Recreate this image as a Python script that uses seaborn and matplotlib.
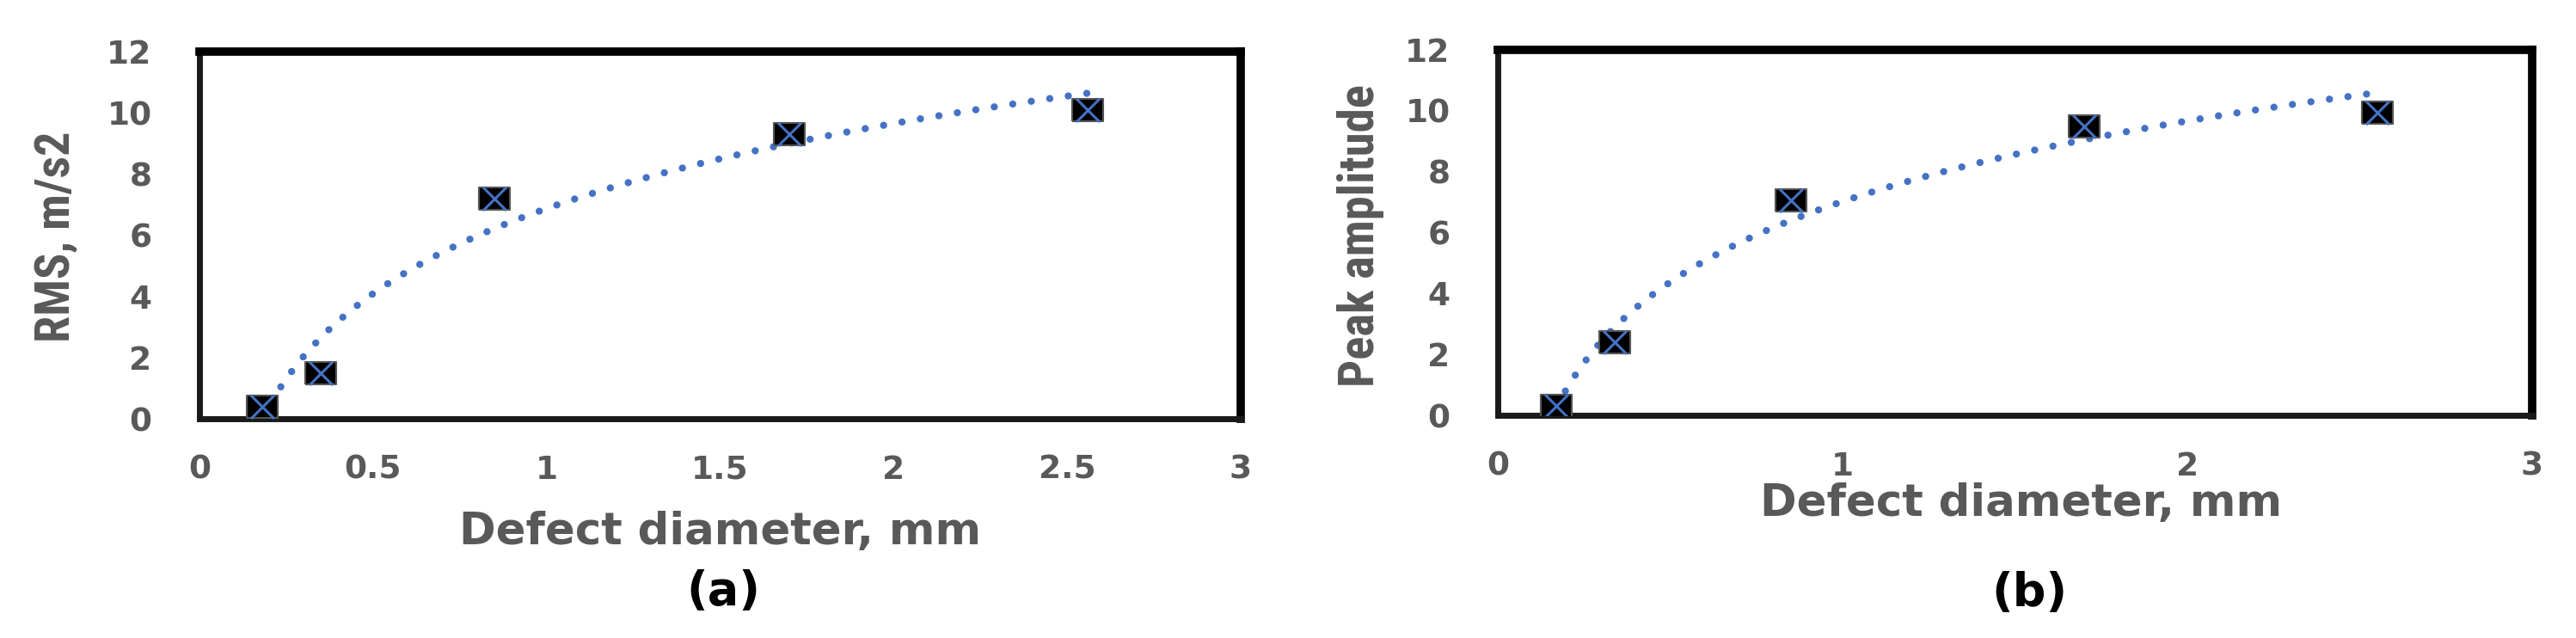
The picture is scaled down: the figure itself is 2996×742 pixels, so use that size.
import numpy as np
import pandas as pd
import matplotlib
matplotlib.use("Agg")
import matplotlib.pyplot as plt
import seaborn as sns
from matplotlib import font_manager

# ---- data ----
diam_a = [0.18, 0.35, 0.85, 1.70, 2.56]
rms_a = [0.40, 1.50, 7.20, 9.30, 10.10]

diam_b = [0.17, 0.34, 0.85, 1.70, 2.55]
peak_b = [0.30, 2.40, 7.05, 9.50, 9.95]

xticks_a = [0, 0.5, 1, 1.5, 2, 2.5, 3]
xticklabels_a = ["0", "0.5", "1", "1.5", "2", "2.5", "3"]
xticks_b = [0, 1, 2, 3]
xticklabels_b = ["0", "1", "2", "3"]
yticks = [0, 2, 4, 6, 8, 10, 12]

sns.set_theme(style="white")
plt.rcParams['font.family'] = ['DejaVu Sans']

names = {f.name for f in font_manager.fontManager.ttflist}
narrow = None
for cand in ["Liberation Sans Narrow", "Roboto Condensed", "DejaVu Sans Condensed"]:
    if cand in names:
        narrow = cand
        break
print("narrow font:", narrow)
YLAB_FAMILY = [narrow, "DejaVu Sans"] if narrow else ["DejaVu Sans"]

W, H = 2996, 742
fig = plt.figure(figsize=(W / 100, H / 100), dpi=100)

def px_axes(l, t, r, b):
    return fig.add_axes([l / W, 1 - b / H, (r - l) / W, (b - t) / H])

ax_a = px_axes(232, 60, 1443, 487)
ax_b = px_axes(1742, 58, 2945, 483)

GRAY = "#595959"
BLUE = "#4472C4"
rect = [(-1.4, -1), (1.4, -1), (1.4, 1), (-1.4, 1), (-1.4, -1)]

def draw(ax, x, y, xticks, xticklabels, ylabel):
    df = pd.DataFrame({"x": x, "y": y})
    sns.regplot(data=df, x="x", y="y", logx=True, ci=None, scatter=False,
                truncate=True, ax=ax,
                line_kws=dict(color=BLUE, lw=6, ls=(0, (0.01, 2.6)),
                              dash_capstyle="round", zorder=2))
    sns.scatterplot(data=df, x="x", y="y", ax=ax, marker=rect, s=700,
                    color="black", edgecolor="#555555", linewidth=1.5,
                    zorder=3)
    sns.scatterplot(data=df, x="x", y="y", ax=ax, marker="x", s=380,
                    color=BLUE, linewidth=2.2, zorder=4)
    ax.set_xlim(0, 3)
    ax.set_ylim(0, 12)
    ax.set_xticks(xticks)
    ax.set_xticklabels(xticklabels)
    ax.set_yticks(yticks)
    ax.tick_params(axis="both", length=0, labelsize=27, labelcolor=GRAY)
    for lab in ax.get_xticklabels() + ax.get_yticklabels():
        lab.set_fontweight("bold")
    ax.tick_params(axis="x", pad=30)
    ax.tick_params(axis="y", pad=40)
    ax.set_xlabel("Defect diameter, mm", fontsize=37, fontweight="bold",
                  color=GRAY)
    ax.set_ylabel(ylabel, fontsize=40, fontweight="bold", color=GRAY,
                  family=YLAB_FAMILY)
    ax.xaxis.label.set_va("center")
    ax.yaxis.label.set_va("center")
    for side in ["top", "right"]:
        ax.spines[side].set_linewidth(7)
        ax.spines[side].set_color("black")
    for side in ["left", "bottom"]:
        ax.spines[side].set_linewidth(5)
        ax.spines[side].set_color("#1a1a1a")
    ax.grid(False)

draw(ax_a, diam_a, rms_a, xticks_a, xticklabels_a, "RMS, m/s2")
draw(ax_b, diam_b, peak_b, xticks_b, xticklabels_b, "Peak amplitude")

# label positions (pixels converted to axes coords)
ax_a.xaxis.set_label_coords(0.5, (487 - 619) / 427)
ax_a.yaxis.set_label_coords((66 - 232) / 1211, (487 - 275) / 427)
ax_b.xaxis.set_label_coords((2351 - 1742) / 1203, (483 - 586) / 425)
ax_b.yaxis.set_label_coords((1582 - 1742) / 1203, (483 - 274) / 425)

# fit y-label sizes to the lengths measured on the reference
fig.canvas.draw()
renderer = fig.canvas.get_renderer()
for ax, target in [(ax_a, 245), (ax_b, 352)]:
    lab = ax.yaxis.label
    h = lab.get_window_extent(renderer).height
    lab.set_fontsize(lab.get_fontsize() * target / h)

fig.text(841 / W, 1 - 688 / H, "(a)", fontsize=39, fontweight="bold",
         color="black", ha="center", va="center")
fig.text(2360 / W, 1 - 690 / H, "(b)", fontsize=39, fontweight="bold",
         color="black", ha="center", va="center")

fig.savefig("out.png", dpi=100, facecolor="white")
